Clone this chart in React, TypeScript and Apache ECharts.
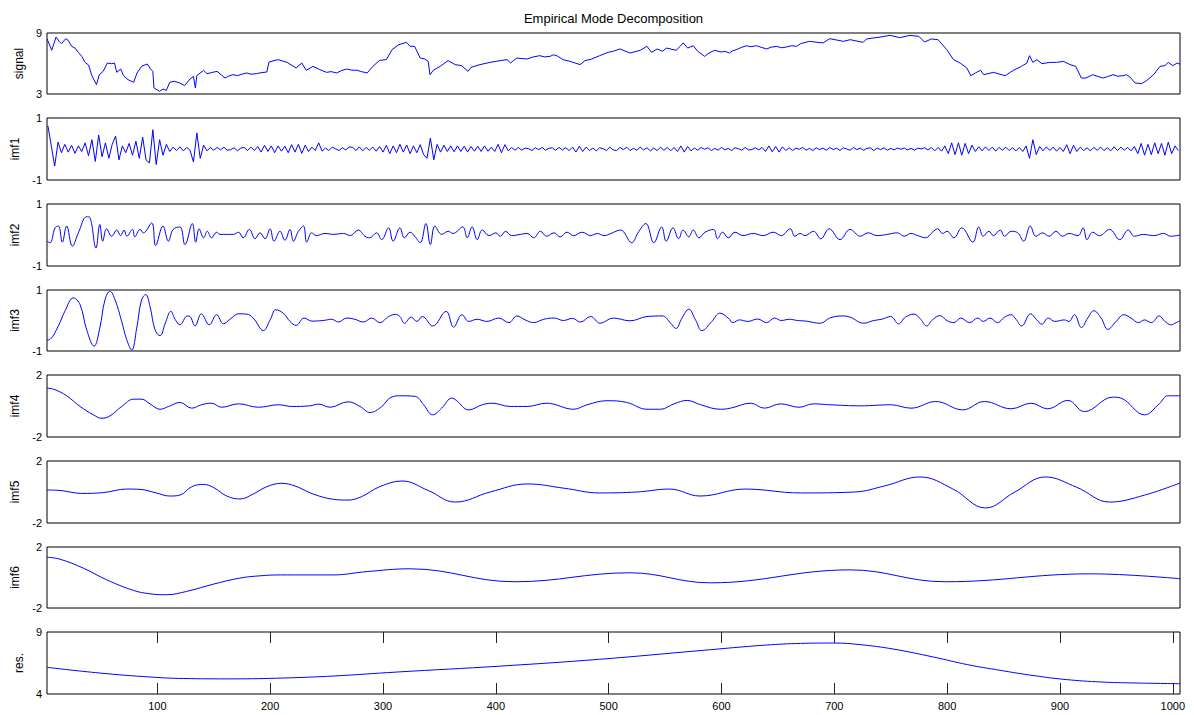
import React, { useEffect, useRef } from "react";
import * as echarts from "echarts";

const panelNames = ["signal", "imf1", "imf2", "imf3", "imf4", "imf5", "imf6", "res."];
const yMins = [3, -1, -1, -1, -2, -2, -2, 4];
const yMaxs = [9, 1, 1, 1, 2, 2, 2, 9];
const xTickValues = [100, 200, 300, 400, 500, 600, 700, 800, 900, 1000];
const X_MIN = 2.2;
const X_MAX = 1006.4;
const titleText = "Empirical Mode Decomposition";

const signalData = [[2.3,8.41],[6.4,7.3],[10.2,8.6],[13,8.18],[15,7.95],[18.8,8.44],[21,8.28],[24,7.69],[27,7.52],[30,7.1],[33,6.7],[36,6.1],[39,5.85],[42,4.8],[46,3.92],[48.6,4.9],[52,5.23],[55.7,6.05],[59.5,5.98],[62,6.05],[64,5.13],[67.5,5.46],[70,4.8],[74,4.41],[79,4.15],[82,5.07],[86,5.72],[91,5.95],[94,5.46],[96,5.23],[97,3.6],[102,3.26],[105,3.49],[108,3.36],[111,4.15],[115,4.25],[120,4.08],[124,3.82],[129,4.48],[132,4.74],[133.7,3.6],[135,4.8],[141,5.33],[144,5.0],[149,5.13],[153,5.23],[160,4.57],[163,4.75],[167,4.9],[171,4.8],[175,4.95],[179,5.07],[183,4.95],[188,5.0],[192,5.1],[197,5.16],[199,6.15],[207,6.38],[215,6.11],[223,5.56],[228,6.05],[232,5.33],[238,5.72],[244,5.4],[250,5.13],[254,5.2],[259,5.07],[263,5.3],[268,5.46],[272,5.35],[277,5.33],[281,5.2],[286,5.07],[291,5.72],[297,6.31],[303,6.38],[308,7.36],[314,7.85],[321,8.08],[324,7.69],[328,7.69],[333,6.54],[337,6.44],[340,6.21],[341.7,4.9],[344.6,5.33],[350.6,5.72],[357.7,6.28],[364,5.89],[369.6,5.79],[375.4,5.23],[378,5.62],[386,5.89],[394.8,6.11],[403.8,6.28],[410,6.38],[413,6.05],[418.6,6.54],[427.6,6.44],[433,6.64],[439,6.77],[443,6.65],[448,6.7],[451,6.85],[454,6.77],[459.6,6.38],[465.8,6.21],[474.7,5.89],[479,6.28],[485,6.44],[492,6.77],[499.6,7.1],[504,7.2],[510,7.43],[519,7.03],[528,7.3],[534,7.69],[538,7.1],[543,7.43],[548,7.2],[551,7.52],[560,7.3],[566,8.02],[570,7.52],[575,7.75],[579,7.2],[585,6.7],[589,7.03],[594,7.3],[599.6,7.13],[603,7.2],[607,7.03],[610,7.25],[613,7.36],[617,7.55],[622,7.75],[626,7.65],[631,7.75],[635,7.6],[640,7.43],[644,7.6],[649,7.69],[653,7.55],[657.6,7.62],[662,7.75],[666.7,7.69],[670,7.95],[678,8.18],[690,8.02],[696,8.44],[708,8.18],[714,8.34],[725.6,8.08],[728.5,8.41],[740.6,8.6],[749.5,8.77],[758,8.54],[767,8.77],[775,8.67],[780,8.11],[786,8.41],[792,8.34],[799.7,7.36],[805.6,6.38],[811.5,6.05],[817.5,5.56],[821,4.8],[825,5.07],[829.6,5.33],[832.5,4.9],[841,5.13],[851.4,4.8],[858.7,5.33],[866,5.72],[870.7,6.05],[873,6.77],[876,6.11],[879.6,6.38],[884,5.98],[891,6.11],[897,6.11],[903,6.21],[909,5.89],[914,5.72],[919,4.57],[923,4.57],[929,4.9],[933,4.75],[938,4.57],[942,4.7],[947,4.9],[951,4.75],[956,4.8],[959,4.9],[962,4.67],[966.6,4.08],[972.5,4.02],[977,4.34],[983,4.9],[988.7,5.72],[993,5.79],[996,6.11],[1000,5.79],[1004,6.05],[1006.4,5.92]];

// imf1 sampled at x = 3, 6, 9, ... (step 3)
const imf1Start = 3;
const imf1Step = 3;
const imf1Values = [
  0.75, 0.1, -0.55, 0.22, -0.12, 0.15, -0.1, 0.12, -0.14, 0.1,
  -0.08, 0.2, -0.22, 0.3, -0.4, 0.45, -0.25, 0.2, -0.3, 0.15,
  0.42, -0.35, 0.1, -0.12, 0.18, -0.2, 0.25, -0.3, 0.38, -0.35,
  -0.45, 0.62, -0.5, 0.3, -0.2, 0.15, -0.08, 0.06, -0.05, 0.07,
  -0.06, 0.05, -0.04, -0.42, 0.52, -0.3, 0.12, -0.06, 0.05, -0.04,
  0.05, -0.03, 0.06, -0.04, -0.02, 0.04, -0.06, 0.03, 0.05, -0.05,
  0.06, -0.05, 0.08, -0.1, 0.12, -0.08, 0.1, -0.12, 0.1, -0.07,
  0.09, -0.12, 0.14, -0.1, 0.15, -0.14, 0.12, -0.08, 0.06, -0.05,
  0.2, -0.07, 0.03, -0.05, 0.06, 0.01, -0.05, 0.04, -0.03, 0.06,
  0.06, -0.05, 0.07, -0.06, 0.05, -0.04, 0.06, -0.07, 0.08, -0.1,
  0.12, -0.15, 0.1, -0.12, 0.15, -0.1, 0.13, -0.15, 0.1, -0.12,
  0.14, -0.18, -0.3, 0.35, -0.35, 0.15, -0.1, 0.12, -0.08, 0.1,
  -0.09, 0.1, -0.08, 0.09, -0.1, 0.08, -0.07, 0.09, -0.08, 0.1,
  -0.07, 0.06, -0.08, 0.15, -0.12, 0.14, -0.06, 0.05, -0.04, 0.05,
  -0.04, 0.03, 0.01, -0.05, 0.04, -0.02, 0.05, -0.04, 0.02, 0.04,
  -0.04, 0.05, -0.03, 0.04, -0.05, 0.06, -0.1, 0.09, -0.08, 0.06,
  -0.05, 0.03, -0.06, 0.04, 0.01, -0.05, 0.06, -0.03, -0.05, 0.05,
  -0.02, 0.06, -0.05, 0.02, -0.04, 0.06, -0.03, 0.04, -0.06, 0.03,
  -0.05, 0.06, -0.04, 0.05, -0.06, 0.05, -0.08, 0.1, -0.1, 0.08,
  -0.06, 0.03, -0.04, 0.05, -0.01, 0.04, -0.05, 0.02, -0.04, 0.05,
  -0.03, 0.02, -0.05, 0.04, 0.01, -0.04, 0.05, -0.03, -0.02, 0.04,
  -0.03, 0.05, -0.08, 0.1, -0.09, 0.08, -0.1, 0.07, -0.05, 0.04,
  -0.05, 0.03, -0.01, 0.05, -0.04, 0.02, -0.05, 0.04, -0.02, 0.03,
  -0.04, 0.05, -0.02, 0.03, -0.05, 0.04, 0.0, -0.04, 0.05, -0.02,
  0.03, -0.04, 0.02, 0.04, -0.05, 0.03, -0.02, 0.04, -0.04, 0.02,
  -0.03, 0.03, -0.01, 0.03, -0.03, 0.02, -0.04, 0.03, 0.0, 0.04,
  -0.03, 0.05, -0.06, 0.05, -0.07, 0.1, -0.15, 0.2, -0.18, 0.2,
  -0.2, 0.18, -0.15, 0.12, -0.08, 0.07, -0.06, 0.07, -0.05, 0.06,
  -0.07, 0.05, -0.04, 0.06, -0.05, 0.04, -0.06, 0.05, -0.08, 0.1,
  -0.3, 0.3, -0.18, 0.08, -0.06, 0.07, -0.05, 0.06, -0.07, 0.05,
  -0.08, 0.14, -0.15, 0.12, -0.08, 0.06, -0.05, 0.04, -0.06, 0.05,
  -0.04, 0.06, -0.05, 0.04, -0.06, 0.07, -0.05, 0.06, -0.04, 0.05,
  -0.06, 0.08, -0.15, 0.18, -0.2, 0.15, -0.18, 0.2, -0.15, 0.18,
  -0.2, 0.22, -0.15, 0.1, -0.05
];

const imf2Data = [[2.3,-0.2],[4.9,-0.25],[9.3,0.23],[12.3,0.29],[15.8,-0.23],[19.6,0.29],[24.7,-0.36],[30,0.07],[37.4,0.59],[40.3,0.56],[45.6,-0.42],[49,0.34],[51.6,-0.2],[55,0.2],[59.5,-0.04],[64,0.16],[67.5,-0.02],[70.5,0.16],[73,-0.04],[78,0.18],[80,-0.06],[84.6,0.18],[87.6,0.07],[95,0.39],[98.5,-0.34],[105,0.29],[109.8,-0.2],[114,0.18],[120,0.26],[124.5,-0.31],[131,0.37],[134,-0.23],[137,0.2],[141,-0.09],[144.3,0.12],[148,-0.09],[152.6,0.09],[155.5,0.02],[167.4,0.02],[172,0.09],[176,-0.09],[181.6,0.18],[186.6,-0.12],[191,0.07],[195.5,-0.12],[199.9,0.2],[203.4,-0.2],[208.7,0.12],[213,-0.17],[217.6,0.18],[220.6,-0.2],[225,0.12],[229.5,0.29],[232.4,-0.23],[236.8,0.07],[241,-0.02],[248.6,0.05],[256,0.02],[265,0.05],[271,-0.02],[278,0.16],[284,-0.04],[288,-0.09],[294.4,0.07],[298.8,-0.15],[305,0.23],[309,-0.2],[315,0.23],[319,-0.09],[324,0.09],[328,-0.04],[333,-0.25],[338,0.37],[342,-0.31],[346,0.29],[352,0.02],[357.7,0.12],[362,0.05],[370.7,0.26],[374.6,-0.09],[379,0.26],[383.5,-0.15],[388,0.16],[394,-0.02],[400,0.07],[404,-0.04],[408.7,0.12],[414,-0.02],[421.8,0.02],[427.7,0.05],[433.6,-0.09],[439.5,0.12],[445,-0.04],[451.5,0.07],[457,-0.06],[463,0.09],[469,-0.02],[476.5,0.09],[484,-0.02],[490,0.05],[496,-0.02],[502,0.05],[510.5,0.16],[520.5,-0.25],[526,0.07],[533,0.37],[540,-0.25],[547,0.26],[551,-0.2],[557,0.23],[562,-0.12],[566,0.16],[571,-0.06],[575,0.16],[580,-0.09],[585.5,0.09],[593,0.18],[596.5,-0.12],[601,0.09],[606,-0.09],[612,0.09],[619,-0.02],[628,0.05],[637,-0.02],[646,0.09],[653,-0.02],[661,0.2],[665,-0.04],[669.6,0.05],[674,-0.02],[681.6,0.12],[688,-0.12],[695.5,0.2],[705,-0.15],[714,0.18],[723,-0.04],[730,0.07],[738,-0.02],[747,0.02],[756,0.07],[762,-0.04],[768,0.05],[774,-0.02],[781,-0.09],[787,0.09],[791.6,0.2],[796,0.05],[800,0.12],[806,-0.09],[813,0.23],[822.8,-0.23],[828,0.26],[832,-0.04],[837,0.12],[841,-0.02],[847,0.16],[851,-0.04],[856.7,0.12],[862.6,0.07],[867.8,-0.2],[873.7,0.29],[878.7,-0.04],[884.6,0.07],[890.5,-0.04],[896.4,0.12],[902.3,-0.04],[908,0.05],[916,-0.02],[920.5,0.23],[924,-0.15],[929,0.09],[935,-0.02],[944,0.18],[953,-0.15],[960.5,0.16],[966,-0.04],[974,0.02],[983,-0.02],[992,0.05],[998,-0.04],[1006.4,0.0]];

const imf3Data = [[2.3,-0.64],[4.9,-0.62],[12,-0.2],[18,0.3],[25.6,0.74],[31.5,0.52],[37.4,-0.31],[43.9,-0.84],[49,-0.25],[53.6,0.68],[58,0.96],[62.5,0.68],[68.4,-0.03],[72.8,-0.62],[77.3,-0.97],[81.7,-0.25],[86,0.68],[89.7,0.85],[93.5,0.46],[98,-0.31],[102.4,-0.5],[107,-0.09],[112,0.3],[115.7,0.04],[120,-0.14],[126.6,0.15],[129,0.13],[133.4,-0.18],[139,0.22],[146,-0.14],[152.6,0.19],[158.5,-0.11],[164.4,0.04],[172,0.22],[179,0.21],[185,0.08],[194,-0.33],[200,0.02],[205,0.35],[211.7,0.24],[217.6,-0.03],[223,-0.16],[230,0.08],[237,-0.02],[247,0],[254.5,0.04],[260.5,-0.05],[268,0.08],[275,0.04],[282.6,-0.05],[290,0.08],[297.3,-0.07],[305,0.13],[311,0.2],[315,0.13],[319,-0.09],[325,0.11],[330,-0.03],[335,0.13],[344,-0.18],[356,0.3],[362.6,-0.22],[370,0.19],[376,-0.03],[383.5,0.04],[392,-0.03],[402.6,0.08],[411.6,-0.07],[418.6,0.15],[426,0.02],[433.6,-0.07],[442.5,0.04],[451.5,0.08],[460,0],[467.8,0.07],[475,-0.05],[484,0.13],[492.4,-0.09],[504,0.08],[519,-0.01],[534,0.13],[547.5,0.15],[555,-0.09],[559.6,-0.26],[565,0.08],[571,0.37],[577,0.02],[582.6,-0.33],[591.5,-0.03],[598.6,0.24],[606,0.08],[610,-0.07],[616,0.02],[623.5,-0.03],[632,0.05],[640,-0.07],[647,0.08],[653,0],[660,0.04],[667.5,0],[675,-0.02],[687.6,-0.09],[696,0.08],[707,0.15],[714,0.11],[726,-0.09],[735,0],[742,0.04],[750,0.13],[757,-0.11],[763,0.11],[770.6,0.21],[776.5,0.04],[781.8,-0.18],[787,0.02],[793.6,0.16],[800,-0.01],[806,-0.07],[812,0.08],[820,-0.07],[827,0.08],[832,-0.03],[838,0.08],[844.6,-0.07],[851,0.11],[856.7,0.19],[861,0.04],[866,-0.18],[874,0.22],[879,0.04],[884,-0.12],[889.6,0.08],[895.5,-0.03],[903.8,0.02],[908,-0.03],[912.8,0.19],[919,-0.23],[924.6,0.08],[930,0.32],[936.5,0.08],[942.4,-0.29],[949.8,-0.03],[956.6,0.19],[963,0.08],[969.6,-0.07],[975,0.02],[981,-0.07],[988,0.15],[993,-0.03],[998.5,-0.14],[1003,-0.07],[1006.4,-0.01]];

const imf4Data = [[2.3,1.16],[9.3,1.05],[19.6,0.66],[31.5,-0.03],[43.3,-0.57],[50.7,-0.79],[58,-0.64],[68.4,-0.03],[79,0.44],[86,0.44],[93.5,0.14],[102.4,-0.21],[110,-0.03],[120,0.23],[130.5,-0.14],[139,0.08],[148,0.18],[157,-0.08],[172,0.14],[189.6,-0.08],[207.3,0.08],[219,-0.03],[235,0.01],[243,0.12],[253,-0.08],[269,0.27],[279.6,-0.03],[288.5,-0.42],[299,-0.03],[306,0.51],[315,0.66],[328.6,0.62],[336,0.08],[344,-0.57],[352,-0.14],[361,0.51],[365,0.36],[376,-0.25],[388,0.08],[396.6,0.18],[412.8,-0.03],[427.7,-0.03],[445,0.18],[469,-0.21],[480.8,0.08],[498.5,0.34],[516,0.23],[534,-0.21],[546,-0.21],[558,0.14],[569.6,0.36],[581.5,0.08],[599,-0.21],[608,-0.14],[626,0.18],[638,-0.14],[652.6,0.14],[668.7,-0.08],[681.6,0.14],[696,0.08],[723,0.01],[750,0.08],[768,-0.14],[790,0.29],[813.8,-0.25],[833,0.29],[856.7,-0.18],[874.4,0.18],[889,-0.18],[907,0.36],[921.6,-0.36],[946.8,0.57],[954,0.51],[975,-0.57],[988,0.14],[995.6,0.66],[1006.4,0.66]];

const imf5Data = [[2.3,0.13],[13.7,0.1],[33,-0.09],[52,-0.04],[72.8,0.19],[84.6,0.17],[99,-0.06],[111,-0.26],[120,-0.2],[130.5,0.34],[141,0.49],[150,0.28],[161.5,-0.26],[173.3,-0.45],[185,-0.13],[197,0.34],[210,0.56],[222,0.39],[238,-0.13],[256,-0.47],[269,-0.52],[281,-0.3],[297,0.34],[317,0.71],[340,0.1],[364,-0.65],[395,0.0],[428,0.52],[460,0.25],[492,-0.06],[525,0.0],[554,0.19],[581,-0.26],[621,0.19],[670,-0.06],[718,0.0],[745,0.4],[776,0.97],[805,0.2],[834,-1.03],[860,0.0],[887,0.97],[915,0.3],[944,-0.65],[975,-0.2],[1006.4,0.58]];

const imf6Data = [[2.3,1.33],[13.7,1.2],[34.5,0.61],[55,-0.15],[79,-0.85],[93.5,-1.07],[108,-1.13],[126,-0.91],[150,-0.43],[173,-0.04],[191,0.11],[209,0.17],[256,0.17],[286,0.39],[324,0.57],[417,-0.28],[519,0.31],[590,-0.35],[714,0.5],[798,-0.28],[927,0.24],[1006.4,-0.08]];

const resData = [[2.3,6.15],[49,5.69],[93.5,5.37],[123,5.25],[167,5.22],[212,5.29],[256,5.45],[312,5.77],[404,6.25],[492,6.8],[581,7.5],[640,7.95],[670,8.08],[700,8.11],[723,7.98],[752,7.63],[788,6.98],[818,6.37],[847,5.91],[877,5.48],[906,5.16],[936,4.97],[966,4.89],[1006.4,4.83]];

const FONT = "'Liberation Sans', Arial, Helvetica, sans-serif";
const GRID_TOPS = [33, 118, 204, 290, 375, 461, 547, 632];
const GRID_HEIGHTS = [61, 62, 62, 61, 62, 62, 61, 62];
const GRID_LEFT = 47;
const GRID_RIGHT = 14;

export default function App() {
  const ref = useRef<HTMLDivElement>(null);
  useEffect(() => {
    if (!ref.current) return;
    const chart = echarts.init(ref.current, undefined, { renderer: "svg" });
    const imf1Data = imf1Values.map((v, i) => [imf1Start + i * imf1Step, v]);
    const seriesData = [signalData, imf1Data, imf2Data, imf3Data, imf4Data, imf5Data, imf6Data, resData];
    const smoothFlags = [false, false, true, true, true, true, true, true];
    const last = panelNames.length - 1;

    const grids = panelNames.map((_, i) => ({
      left: GRID_LEFT,
      right: GRID_RIGHT,
      top: GRID_TOPS[i],
      height: GRID_HEIGHTS[i],
      show: true,
      borderColor: "#000",
      borderWidth: 1,
      backgroundColor: "transparent",
    }));

    const xAxes: any[] = panelNames.map((_, i) => ({
      type: "value",
      gridIndex: i,
      min: X_MIN,
      max: X_MAX,
      axisLine: { show: false },
      splitLine: { show: false },
      axisTick: {
        show: i === last,
        inside: true,
        length: 11,
        customValues: xTickValues,
        lineStyle: { color: "#222", width: 1 },
      },
      axisLabel: {
        show: i === last,
        customValues: xTickValues,
        formatter: (v: number) => String(v),
        fontSize: 11,
        color: "#000",
        fontFamily: FONT,
        margin: 6,
      },
    }));
    xAxes.push({
      type: "value",
      gridIndex: last,
      position: "top",
      min: X_MIN,
      max: X_MAX,
      axisLine: { show: false },
      splitLine: { show: false },
      axisLabel: { show: false },
      axisTick: {
        show: true,
        inside: true,
        length: 11,
        customValues: xTickValues,
        lineStyle: { color: "#222", width: 1 },
      },
    });

    const yAxes = panelNames.map((name, i) => ({
      type: "value",
      gridIndex: i,
      min: yMins[i],
      max: yMaxs[i],
      name,
      nameLocation: "middle",
      nameRotate: 90,
      nameGap: yMins[i] < 0 ? 23 : 19,
      nameTextStyle: { fontSize: 12, color: "#000", fontFamily: FONT },
      axisLine: { show: false },
      axisTick: { show: false },
      splitLine: { show: false },
      axisLabel: {
        customValues: [yMins[i], yMaxs[i]],
        formatter: (v: number) => String(v),
        fontSize: 11,
        color: "#000",
        fontFamily: FONT,
        margin: 5,
      },
    }));

    const series = seriesData.map((data, i) => ({
      type: "line",
      xAxisIndex: i,
      yAxisIndex: i,
      data,
      showSymbol: false,
      symbol: "none",
      smooth: smoothFlags[i] ? 0.4 : false,
      lineStyle: { color: "#0000ff", width: 1 },
      silent: true,
    }));

    chart.setOption({
      animation: false,
      backgroundColor: "#fff",
      textStyle: { fontFamily: FONT },
      grid: grids,
      xAxis: xAxes,
      yAxis: yAxes,
      series,
      graphic: [
        {
          type: "text",
          x: 613.5,
          y: 18,
          style: {
            text: titleText,
            textAlign: "center",
            textVerticalAlign: "middle",
            fontSize: 13,
            fill: "#000",
            fontFamily: FONT,
          },
        },
      ],
    });
    return () => chart.dispose();
  }, []);
  return (
    <div
      ref={ref}
      style={{ position: "fixed", left: 0, top: 0, width: 1194, height: 715, background: "#fff" }}
    />
  );
}
